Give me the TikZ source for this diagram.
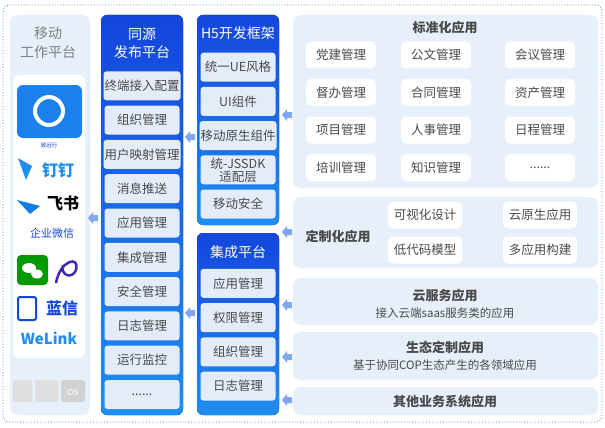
\documentclass[tikz,border=0pt]{standalone}
\usepackage{fontspec}
\setmainfont{Noto Sans CJK SC}
\usetikzlibrary{positioning}
\definecolor{panel}{HTML}{E6EFFA}
\definecolor{itembg}{HTML}{E4ECFA}
\definecolor{txtgray}{HTML}{4A4A4A}
\definecolor{blueA}{HTML}{1446DC}
\definecolor{blueB}{HTML}{1E8EF2}
\definecolor{arr}{HTML}{7FA6F2}
\definecolor{dashc}{HTML}{3A7FE0}
\newcommand{\leftarr}[2]{\fill[arr] (#1-5,#2) -- (#1,#2-6) -- (#1,#2-3) -- (#1+5,#2-3) -- (#1+5,#2+3) -- (#1,#2+3) -- (#1,#2+6) -- cycle;}
\newcommand{\dotsix}{......}
\begin{document}
\begin{tikzpicture}[x=1pt,y=-1pt]
\tikzstyle{item} = [fill=itembg, rounded corners=3pt, minimum width=75pt, minimum height=29pt, inner sep=1pt, font=\fontsize{12.5}{13}\selectfont, text=txtgray, align=center]
\tikzstyle{app} = [fill=white, rounded corners=5pt, minimum width=70pt, minimum height=27pt, inner sep=1pt, font=\fontsize{12.5}{13}\selectfont, text=txtgray]
\tikzstyle{pan} = [fill=panel, rounded corners=8pt]
\tikzstyle{ttl} = [font=\fontsize{13}{15}\selectfont\bfseries, text=txtgray]
\tikzstyle{sub} = [font=\fontsize{11.5}{13}\selectfont, text=txtgray]
\tikzstyle{wttl} = [font=\fontsize{14}{18}\selectfont, text=white, align=center]
\useasboundingbox (0,0) rectangle (605,428);
\fill[white] (0,0) rectangle (605,428);
\draw[dashc, dotted, thick, rounded corners=6pt] (3,5) rectangle (602,422);

% mobile platform column
\fill[pan] (10,15) rectangle (90,415);
\node[font=\fontsize{14}{19}\selectfont, text=gray, align=center] (mob) at (48,43) {移动\\工作平台};
\fill[white, rounded corners=6pt] (13,75) rectangle (85,358);
\fill[blueB!80!blueA, rounded corners=6pt] (17,85) rectangle (82,138);
\draw[white, line width=4pt] (49,111) circle (14pt);
\node[font=\fontsize{5.5}{6}\selectfont, text=blueA] (zy) at (49,145) {致远行};
\node[font=\fontsize{16}{17}\selectfont\bfseries, text=blueB] (dd) at (58,170) {钉钉};
\fill[blueB] (18,158) -- (32,166) -- (26,180) -- cycle;
\node[font=\fontsize{16}{17}\selectfont\bfseries, text=black] (fs) at (63,203) {飞书};
\fill[blueA!70!cyan] (17,200) -- (40,206) -- (30,214) -- cycle;
\node[font=\fontsize{11}{12}\selectfont, text=blueA] (qw) at (52,233) {企业微信};
\fill[green!60!black, rounded corners=4pt] (17,255) rectangle (48,285);
\fill[white] (29,268) ellipse (7pt and 5pt);
\fill[white] (37,274) ellipse (6pt and 4.5pt);
\draw[blueA!60!violet, line width=2.5pt] (56,283) .. controls (60,260) and (80,255) .. (76,270) .. controls (72,280) and (60,275) .. (63,265);
\node[font=\fontsize{16}{17}\selectfont\bfseries, text=blueA] (lx) at (62,308) {蓝信};
\draw[blueA, line width=2pt, rounded corners=2pt] (18,297) rectangle (36,320);
\node[font=\fontsize{15}{16}\selectfont\bfseries, text=blueB] (wl) at (49,338) {WeLink};
\fill[gray!25, rounded corners=2pt] (13,380) rectangle (32,402);
\fill[gray!25, rounded corners=2pt] (35,380) rectangle (58,402);
\fill[gray!35, rounded corners=3pt] (61,380) rectangle (85,402);
\node[font=\fontsize{8}{9}\selectfont, text=white] (os) at (73,393) {OS};
\leftarr{93}{218}

% publish platform
\fill[top color=blueA, bottom color=blueB, rounded corners=6pt] (101,15) rectangle (183,415);
\node[wttl] (pub) at (142,43) {同源\\发布平台};
\foreach \t [count=\i] in {终端接入配置,组织管理,用户映射管理,消息推送,应用管理,集成管理,安全管理,日志管理,运行监控,\dotsix}
  \node[item] (p\i) at (142,51.5+34.3*\i) {\t};
\leftarr{190}{137}
\leftarr{190}{313}

% H5 framework
\fill[top color=blueA, bottom color=blueB, rounded corners=6pt] (197,15) rectangle (279,225);
\node[wttl] (h5) at (238,33) {H5开发框架};
\foreach \t [count=\i] in {统一UE风格,UI组件,移动原生组件,{统-JSSDK\\适配层},移动安全}
  \node[item] (h\i) at (238,33+34.2*\i) {\t};

% integration platform
\fill[top color=blueA, bottom color=blueB, rounded corners=6pt] (197,233) rectangle (279,415);
\node[wttl] (ji) at (238,252) {集成平台};
\foreach \t [count=\i] in {应用管理,权限管理,组织管理,日志管理}
  \node[item] (j\i) at (238,249+34.3*\i) {\t};

\foreach \y in {115,232,305,357,400} {\leftarr{287}{\y}}

% right panels
\fill[pan] (293,15) rectangle (598,188);
\node[ttl] (std) at (445,28) {标准化应用};
\foreach \t [count=\i] in {党建管理,公文管理,会议管理,督办管理,合同管理,资产管理,项目管理,人事管理,日程管理,培训管理,知识管理,\dotsix}{
  \pgfmathtruncatemacro{\c}{mod(\i-1,3)}
  \pgfmathtruncatemacro{\r}{div(\i-1,3)}
  \node[app] (s\i) at ({341+\c*(\c==1?95:99.5)},{55+\r*37.5}) {\t};
}

\fill[pan] (293,197) rectangle (598,268);
\node[ttl] (cus) at (338,237) {定制化应用};
\node[app, minimum width=74pt] (c1) at (425,215) {可视化设计};
\node[app, minimum width=74pt] (c2) at (540,215) {云原生应用};
\node[app, minimum width=74pt] (c3) at (425,250) {低代码模型};
\node[app, minimum width=74pt] (c4) at (540,250) {多应用构建};

\fill[pan] (293,278) rectangle (598,325);
\node[ttl] (cloud) at (445,296) {云服务应用};
\node[sub] (clouds) at (445,313) {接入云端saas服务类的应用};

\fill[pan] (293,332) rectangle (598,380);
\node[ttl] (eco) at (445,348) {生态定制应用};
\node[sub] (ecos) at (445,365) {基于协同COP生态产生的各领域应用};

\fill[pan] (293,387) rectangle (598,415);
\node[ttl] (oth) at (445,402) {其他业务系统应用};
\end{tikzpicture}
\end{document}
